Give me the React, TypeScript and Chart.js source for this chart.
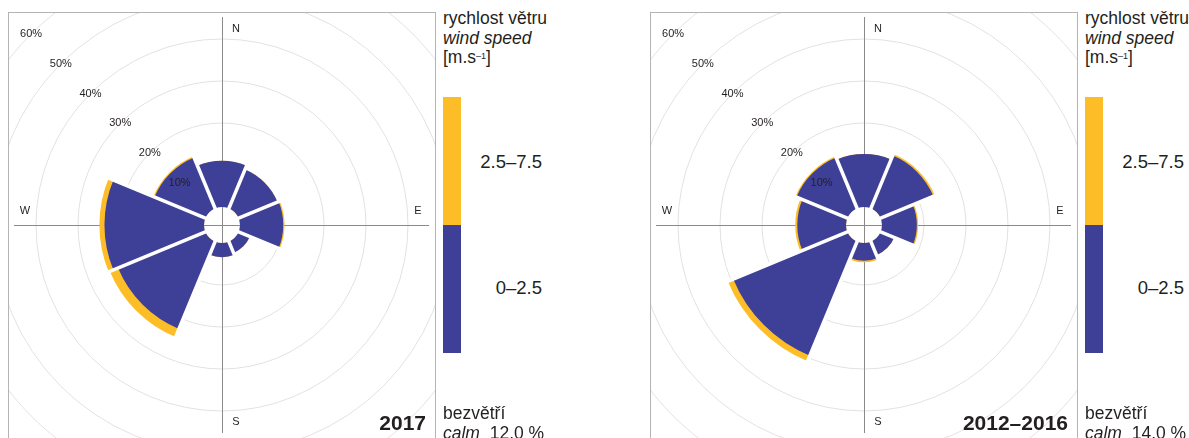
import React, { useEffect, useRef } from 'react';
import { Chart, registerables } from 'chart.js';

Chart.register(...registerables);

// ---- data ----
const directions = ['N', 'NE', 'E', 'SE', 'S', 'SW', 'W', 'NW'];
const ringTicks = [0, 10, 20, 30, 40, 50, 60];
const ringLabels = ['', '10%', '20%', '30%', '40%', '50%', '60%'];
const compassLabels = ['N', 'E', 'S', 'W'];
const speedClasses = ['0–2.5', '2.5–7.5'];

// share of wind directions [%] by speed class
const low2017 = [11.0, 10.0, 10.3, 2.9, 3.4, 22.5, 23.7, 13.1];
const high2017 = [0.0, 0.0, 0.3, 0.0, 0.0, 2.1, 1.2, 0.3];
const low2012 = [12.6, 13.6, 8.3, 3.5, 4.2, 29.4, 11.6, 13.1];
const high2012 = [0.0, 0.4, 0.3, 0.0, 0.4, 1.4, 0.5, 0.3];
const calm2017 = '12.0 %';
const calm2012 = '14.0 %';

const BLUE = '#3e3f96';
const YELLOW = '#fcbd27';
const TEXT = '#231f20';
const FONT = '"Liberation Sans", Arial, sans-serif';

// layout constants
const HOLE_PX = 18;
const PX_PER_PCT = 4.2;

function makeRosePlugin(totals: number[]) {
  return {
    id: 'rose',
    afterDatasetsUpdate(chart: any) {
      const s = chart.scales.r;
      const hole = s.getDistanceFromCenterForValue(0);
      chart.data.datasets.forEach((_: any, i: number) => {
        chart.getDatasetMeta(i).data.forEach((el: any) => {
          el.innerRadius = hole;
        });
      });
    },
    beforeDatasetsDraw(chart: any) {
      const s = chart.scales.r;
      const ctx = chart.ctx;
      const cx = s.xCenter;
      const cy = s.yCenter;
      ctx.save();
      ctx.strokeStyle = '#8a8a8a';
      ctx.lineWidth = 1;
      ctx.beginPath();
      ctx.moveTo(cx + 0.5, cy - 208);
      ctx.lineTo(cx + 0.5, cy + 208);
      ctx.moveTo(cx - 208, cy + 0.5);
      ctx.lineTo(cx + 207, cy + 0.5);
      ctx.stroke();
      ctx.restore();
    },
    afterDatasetsDraw(chart: any) {
      const s = chart.scales.r;
      const ctx = chart.ctx;
      const cx = s.xCenter;
      const cy = s.yCenter;
      const hole = s.getDistanceFromCenterForValue(0);
      const n = totals.length;
      // white separating gaps between sectors
      ctx.save();
      ctx.strokeStyle = '#ffffff';
      ctx.lineWidth = 3.5;
      ctx.lineCap = 'butt';
      for (let k = 0; k < n; k++) {
        const a = s.getIndexAngle(k) - Math.PI / 2;
        const rr =
          Math.max(
            s.getDistanceFromCenterForValue(totals[k]),
            s.getDistanceFromCenterForValue(totals[(k - 1 + n) % n])
          ) + 2;
        ctx.beginPath();
        ctx.moveTo(cx + Math.cos(a) * (hole - 2), cy + Math.sin(a) * (hole - 2));
        ctx.lineTo(cx + Math.cos(a) * rr, cy + Math.sin(a) * rr);
        ctx.stroke();
      }
      ctx.restore();

      // ring labels along the NW diagonal
      ctx.save();
      ctx.fillStyle = TEXT;
      ctx.font = '11px ' + FONT;
      ctx.textAlign = 'center';
      ctx.textBaseline = 'middle';
      ringTicks.forEach((v, i) => {
        if (!ringLabels[i]) return;
        const r = s.getDistanceFromCenterForValue(v);
        ctx.fillText(ringLabels[i], cx - r * Math.SQRT1_2, cy - r * Math.SQRT1_2);
      });
      // compass letters
      const pos = [
        [14, -196],
        [196, -14],
        [14, 197],
        [-197, -14],
      ];
      compassLabels.forEach((t, i) => {
        ctx.fillText(t, cx + pos[i][0], cy + pos[i][1]);
      });
      ctx.restore();
    },
  };
}

function Rose({ low, high }: { low: number[]; high: number[] }) {
  const ref = useRef<HTMLCanvasElement>(null);
  useEffect(() => {
    const totals = low.map((v, i) => v + high[i]);
    const chart = new Chart(ref.current as HTMLCanvasElement, {
      type: 'polarArea',
      data: {
        labels: directions,
        datasets: [
          { label: speedClasses[0], data: low, backgroundColor: BLUE, borderWidth: 0 },
          { label: speedClasses[1], data: totals, backgroundColor: YELLOW, borderWidth: 0 },
        ],
      },
      options: {
        responsive: false,
        animation: false,
        devicePixelRatio: 1,
        events: [],
        layout: { padding: 0 },
        plugins: { legend: { display: false }, tooltip: { enabled: false } },
        scales: {
          r: {
            min: -HOLE_PX / PX_PER_PCT,
            max: 60,
            startAngle: -22.5,
            angleLines: { display: false },
            pointLabels: { display: false },
            ticks: { display: false },
            grid: {
              circular: true,
              lineWidth: 1,
              color: (c: any) => (c.tick && c.tick.value === 0 ? 'rgba(0,0,0,0)' : '#e2e2e2'),
            },
            afterBuildTicks: (sc: any) => {
              sc.ticks = ringTicks.map((v) => ({ value: v }));
            },
          },
        },
      } as any,
      plugins: [makeRosePlugin(totals) as any],
    });
    return () => chart.destroy();
  }, [low, high]);
  return (
    <canvas
      ref={ref}
      width={540}
      height={540}
      style={{ position: 'absolute', left: -57, top: -58, width: 540, height: 540 }}
    />
  );
}

function Panel({ ox, low, high, year, calm }: { ox: number; low: number[]; high: number[]; year: string; calm: string }) {
  const txt: React.CSSProperties = { position: 'absolute', fontFamily: FONT, color: TEXT, whiteSpace: 'nowrap' };
  return (
    <>
      <div
        style={{
          position: 'absolute',
          left: 8 + ox,
          top: 12,
          width: 428,
          height: 450,
          border: '1px solid #b4b4b4',
          boxSizing: 'border-box',
          overflow: 'hidden',
          background: '#fff',
        }}
      >
        <Rose low={low} high={high} />
      </div>
      <div
        style={{
          ...txt,
          left: ox + 276,
          width: 150,
          top: 411,
          textAlign: 'right',
          fontWeight: 'bold',
          fontSize: 21,
          lineHeight: '24px',
        }}
      >
        {year}
      </div>
      <div style={{ ...txt, left: 443 + ox, top: 9, fontSize: 17.5, lineHeight: '19.5px' }}>
        <div>rychlost větru</div>
        <div style={{ fontStyle: 'italic' }}>wind speed</div>
        <div>
          [m.s<sup style={{ fontSize: 9, verticalAlign: 'top', position: 'relative', top: -1 }}>–1</sup>]
        </div>
      </div>
      <div style={{ position: 'absolute', left: 443 + ox, top: 97, width: 18, height: 128, background: YELLOW }} />
      <div style={{ position: 'absolute', left: 443 + ox, top: 225, width: 18, height: 128, background: BLUE }} />
      <div style={{ ...txt, left: 442 + ox, width: 100, top: 151, textAlign: 'right', fontSize: 18.5, lineHeight: '22px' }}>
        {speedClasses[1]}
      </div>
      <div style={{ ...txt, left: 442 + ox, width: 100, top: 277, textAlign: 'right', fontSize: 18.5, lineHeight: '22px' }}>
        {speedClasses[0]}
      </div>
      <div style={{ ...txt, left: 443 + ox, top: 403, fontSize: 17.5, lineHeight: '20px' }}>
        <div>bezvětří</div>
        <div>
          <span style={{ fontStyle: 'italic' }}>calm</span>&nbsp; {calm}
        </div>
      </div>
    </>
  );
}

export default function App() {
  return (
    <div
      style={{
        position: 'absolute',
        left: 0,
        top: 0,
        width: 1189,
        height: 438,
        overflow: 'hidden',
        background: '#fff',
      }}
    >
      <Panel ox={0} low={low2017} high={high2017} year="2017" calm={calm2017} />
      <Panel ox={642} low={low2012} high={high2012} year="2012–2016" calm={calm2012} />
    </div>
  );
}
